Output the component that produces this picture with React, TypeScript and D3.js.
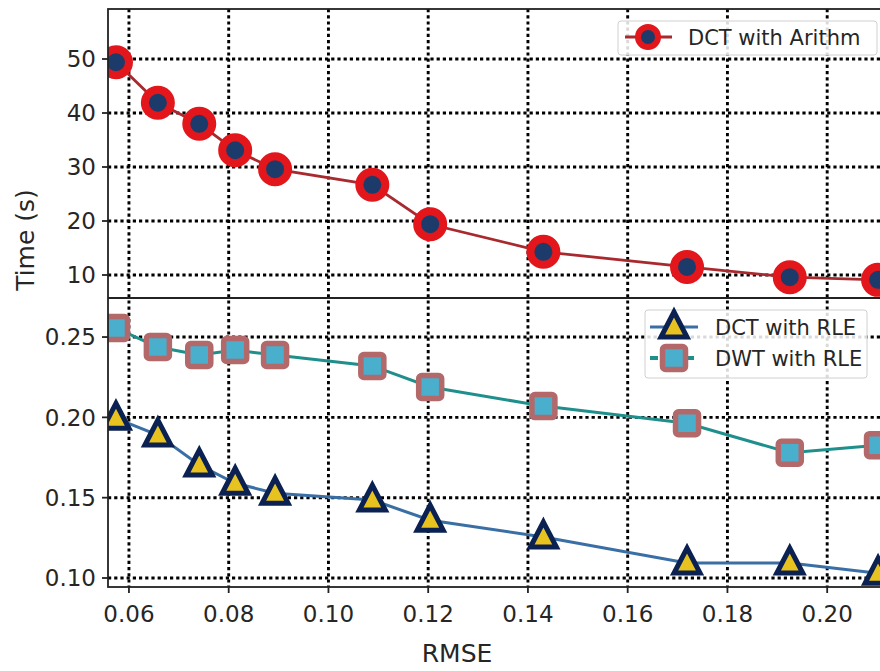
import React, { useEffect, useRef } from 'react';
import * as d3 from 'd3';

// RMSE values shared by every series
const rmse = [0.0574, 0.0658, 0.0741, 0.0813, 0.0893, 0.1088, 0.1204, 0.1431, 0.1719, 0.1925, 0.2102];
const dctArithm = [49.4, 41.9, 38.0, 33.1, 29.6, 26.7, 19.4, 14.3, 11.5, 9.6, 9.1];
const dctRle = [0.1994, 0.189, 0.1703, 0.159, 0.1528, 0.1485, 0.136, 0.1255, 0.1093, 0.1093, 0.103];
const dwtRle = [0.2556, 0.2438, 0.2388, 0.2419, 0.2388, 0.232, 0.2189, 0.207, 0.1963, 0.178, 0.1827];

const xTicks = [0.06, 0.08, 0.1, 0.12, 0.14, 0.16, 0.18, 0.2];
const topTicks = [10, 20, 30, 40, 50];
const bottomTicks = [0.1, 0.15, 0.2, 0.25];

const W = 880;
const H = 671;
const FONT = 'DejaVu Sans, sans-serif';

const App = () => {
  const svgRef = useRef<SVGSVGElement | null>(null);

  useEffect(() => {
    const svg = d3.select(svgRef.current);
    svg.selectAll('*').remove();

    const left = 108;
    const right = 900;
    const top = 9;
    const mid = 298;
    const bottom = 587;

    const x = d3.scaleLinear().domain([0.0558, 0.2146]).range([left, right]);
    const yTop = d3.scaleLinear().domain([5.74, 59.26]).range([mid, top]);
    const yBot = d3.scaleLinear().domain([0.0944, 0.2743]).range([bottom, mid]);

    const defs = svg.append('defs');
    defs.append('clipPath').attr('id', 'clipTop')
      .append('rect').attr('x', left).attr('y', top).attr('width', right - left).attr('height', mid - top);
    defs.append('clipPath').attr('id', 'clipBot')
      .append('rect').attr('x', left).attr('y', mid).attr('width', right - left).attr('height', bottom - mid);

    const grid = svg.append('g')
      .attr('stroke', '#000')
      .attr('stroke-width', 2.9)
      .attr('stroke-dasharray', '3.2,3');

    // vertical grid, both panels
    grid.selectAll('line.v')
      .data(xTicks)
      .join('line')
      .attr('class', 'v')
      .attr('x1', d => x(d)).attr('x2', d => x(d))
      .attr('y1', top).attr('y2', bottom);

    grid.selectAll('line.ht')
      .data(topTicks)
      .join('line')
      .attr('class', 'ht')
      .attr('x1', left).attr('x2', right)
      .attr('y1', d => yTop(d)).attr('y2', d => yTop(d));

    grid.selectAll('line.hb')
      .data(bottomTicks)
      .join('line')
      .attr('class', 'hb')
      .attr('x1', left).attr('x2', right)
      .attr('y1', d => yBot(d)).attr('y2', d => yBot(d));

    // --- top panel: DCT with Arithm
    const gTop = svg.append('g').attr('clip-path', 'url(#clipTop)');
    const ptsTop: [number, number][] = rmse.map((r, i) => [x(r), yTop(dctArithm[i])]);
    gTop.append('path')
      .attr('d', d3.line()(ptsTop))
      .attr('fill', 'none')
      .attr('stroke', '#a82a2e')
      .attr('stroke-width', 2.8);
    gTop.selectAll('circle')
      .data(ptsTop)
      .join('circle')
      .attr('cx', d => d[0]).attr('cy', d => d[1])
      .attr('r', 13)
      .attr('fill', '#1c3b6b')
      .attr('stroke', '#e2161b')
      .attr('stroke-width', 8);

    // --- bottom panel
    const gBot = svg.append('g').attr('clip-path', 'url(#clipBot)');
    const ptsDwt: [number, number][] = rmse.map((r, i) => [x(r), yBot(dwtRle[i])]);
    const ptsDct: [number, number][] = rmse.map((r, i) => [x(r), yBot(dctRle[i])]);

    gBot.append('path')
      .attr('d', d3.line()(ptsDwt))
      .attr('fill', 'none')
      .attr('stroke', '#1f8f8c')
      .attr('stroke-width', 3);
    gBot.append('path')
      .attr('d', d3.line()(ptsDct))
      .attr('fill', 'none')
      .attr('stroke', '#3a6fa6')
      .attr('stroke-width', 3);

    const square = (g: any, cx: number, cy: number) =>
      g.append('rect')
        .attr('x', cx - 11.5).attr('y', cy - 11.5)
        .attr('width', 23).attr('height', 23)
        .attr('rx', 3)
        .attr('fill', '#4aaecd')
        .attr('stroke', '#b3686a')
        .attr('stroke-width', 5.5)
        .attr('stroke-linejoin', 'round');

    const triangle = (g: any, cx: number, cy: number) =>
      g.append('path')
        .attr('d', `M${cx},${cy - 15} L${cx + 13},${cy + 10} L${cx - 13},${cy + 10} Z`)
        .attr('fill', '#e8c21e')
        .attr('stroke', '#0a2152')
        .attr('stroke-width', 5)
        .attr('stroke-linejoin', 'miter');

    ptsDwt.forEach(p => square(gBot, p[0], p[1]));
    ptsDct.forEach(p => triangle(gBot, p[0], p[1]));

    // --- frames
    const frame = svg.append('g').attr('fill', 'none').attr('stroke', '#222').attr('stroke-width', 1.8);
    frame.append('rect').attr('x', left).attr('y', top).attr('width', right - left).attr('height', bottom - top);
    frame.append('line').attr('x1', left).attr('x2', right).attr('y1', mid).attr('y2', mid);

    // --- ticks and labels
    const ticks = svg.append('g').attr('stroke', '#222').attr('stroke-width', 1.8);
    xTicks.forEach(t => {
      ticks.append('line').attr('x1', x(t)).attr('x2', x(t)).attr('y1', bottom).attr('y2', bottom + 6);
    });
    topTicks.forEach(t => {
      ticks.append('line').attr('x1', left - 6).attr('x2', left).attr('y1', yTop(t)).attr('y2', yTop(t));
    });
    bottomTicks.forEach(t => {
      ticks.append('line').attr('x1', left - 6).attr('x2', left).attr('y1', yBot(t)).attr('y2', yBot(t));
    });

    const labels = svg.append('g').attr('font-family', FONT).attr('fill', '#262626');
    labels.selectAll('text.xt')
      .data(xTicks)
      .join('text')
      .attr('class', 'xt')
      .attr('x', d => x(d)).attr('y', 622)
      .attr('text-anchor', 'middle')
      .attr('font-size', 23)
      .text(d => d3.format('.2f')(d));
    labels.selectAll('text.yt')
      .data(topTicks)
      .join('text')
      .attr('class', 'yt')
      .attr('x', 96).attr('y', d => yTop(d))
      .attr('dy', '0.36em')
      .attr('text-anchor', 'end')
      .attr('font-size', 23)
      .text(d => String(d));
    labels.selectAll('text.yb')
      .data(bottomTicks)
      .join('text')
      .attr('class', 'yb')
      .attr('x', 96).attr('y', d => yBot(d))
      .attr('dy', '0.36em')
      .attr('text-anchor', 'end')
      .attr('font-size', 23)
      .text(d => d3.format('.2f')(d));

    labels.append('text')
      .attr('x', 457).attr('y', 662)
      .attr('text-anchor', 'middle')
      .attr('font-size', 25)
      .text('RMSE');
    labels.append('text')
      .attr('transform', 'translate(34,240) rotate(-90)')
      .attr('text-anchor', 'middle')
      .attr('font-size', 25)
      .text('Time (s)');

    // --- legends
    const legend = svg.append('g').attr('font-family', FONT);
    legend.append('rect')
      .attr('x', 618).attr('y', 21).attr('width', 259).attr('height', 34).attr('rx', 3)
      .attr('fill', '#fff').attr('fill-opacity', 0.85).attr('stroke', '#d0d0d0');
    legend.append('line').attr('x1', 625).attr('x2', 672).attr('y1', 37).attr('y2', 37)
      .attr('stroke', '#a82a2e').attr('stroke-width', 2.8);
    legend.append('circle').attr('cx', 648).attr('cy', 37).attr('r', 10)
      .attr('fill', '#1c3b6b').attr('stroke', '#e2161b').attr('stroke-width', 6);
    legend.append('text').attr('x', 688).attr('y', 37).attr('dy', '0.36em')
      .attr('font-size', 21).attr('fill', '#262626').text('DCT with Arithm');

    legend.append('rect')
      .attr('x', 645).attr('y', 310).attr('width', 222).attr('height', 68).attr('rx', 3)
      .attr('fill', '#fff').attr('fill-opacity', 0.85).attr('stroke', '#d0d0d0');
    legend.append('line').attr('x1', 650).attr('x2', 698).attr('y1', 327).attr('y2', 327)
      .attr('stroke', '#3a6fa6').attr('stroke-width', 3);
    triangle(legend, 674, 327);
    legend.append('line').attr('x1', 650).attr('x2', 698).attr('y1', 358).attr('y2', 358)
      .attr('stroke', '#1f8f8c').attr('stroke-width', 4).attr('stroke-dasharray', '8,4');
    square(legend, 674, 358);
    legend.append('text').attr('x', 715).attr('y', 327).attr('dy', '0.36em')
      .attr('font-size', 21).attr('fill', '#262626').text('DCT with RLE');
    legend.append('text').attr('x', 715).attr('y', 358).attr('dy', '0.36em')
      .attr('font-size', 21).attr('fill', '#262626').text('DWT with RLE');
  }, []);

  return (
    <div style={{ position: 'fixed', top: 0, left: 0, width: W, height: H, background: '#fff' }}>
      <svg ref={svgRef} width={W} height={H} style={{ display: 'block' }} />
    </div>
  );
};

export default App;
